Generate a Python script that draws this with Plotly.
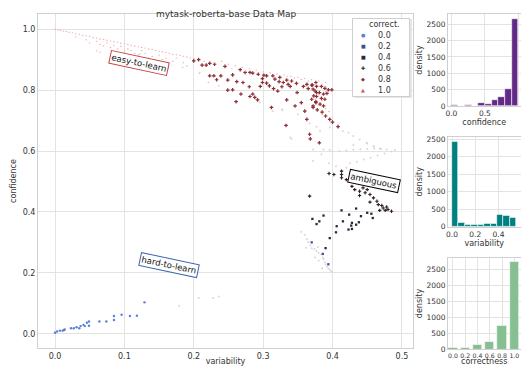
import plotly.graph_objects as go

# ---------------- data ----------------
# correctness 1.0 (easy-to-learn band)
c10_x = [0.000,0.004,0.008,0.012,0.016,0.020,0.025,0.030,0.035,0.040,0.045,0.050,0.055,0.060,0.065,0.070,0.075,0.080,0.085,0.090,
         0.095,0.100,0.105,0.110,0.115,0.120,0.125,0.130,0.135,0.140,0.145,0.150,0.155,0.160,0.165,0.170,0.175,0.180,0.185,0.190,
         0.195,0.200,0.030,0.045,0.050,0.060,0.065,0.070,0.075,0.080,0.085,0.090,0.095,0.100,0.105,0.110,0.115,0.120,0.125,0.130,
         0.135,0.140,0.150,0.155,0.160,0.170,0.175,0.185,0.190,0.060,0.065,0.085,0.110,0.122,0.163,0.184,0.209,0.215,0.230,0.240,
         0.250,0.260,0.270,0.280,0.290,0.300,0.310,0.320,0.330,0.340,0.350,0.360,0.370,0.380,0.390,0.335,0.345,0.355,0.365,0.375,
         0.385,0.390,0.360,0.370,0.380,0.390,0.385,0.375,0.380,0.390,0.385,0.395,0.208,0.221,0.236,0.255,0.275,0.295,0.315,0.325]
c10_y = [1.000,0.998,0.996,0.994,0.992,0.990,0.988,0.985,0.983,0.980,0.978,0.976,0.973,0.971,0.968,0.966,0.964,0.961,0.959,0.957,
         0.954,0.952,0.950,0.947,0.945,0.942,0.940,0.938,0.935,0.933,0.930,0.928,0.926,0.923,0.921,0.918,0.916,0.914,0.911,0.909,
         0.906,0.904,0.975,0.965,0.955,0.960,0.950,0.945,0.955,0.940,0.948,0.935,0.944,0.925,0.935,0.930,0.920,0.915,0.930,0.920,
         0.905,0.910,0.915,0.900,0.905,0.895,0.905,0.890,0.880,0.929,0.925,0.905,0.890,0.918,0.869,0.875,0.859,0.895,0.890,0.895,
         0.885,0.880,0.875,0.870,0.865,0.860,0.857,0.853,0.850,0.845,0.842,0.838,0.834,0.830,0.825,0.845,0.840,0.835,0.830,0.820,
         0.820,0.812,0.815,0.800,0.785,0.795,0.765,0.770,0.750,0.740,0.720,0.730,0.855,0.825,0.814,0.870,0.862,0.850,0.842,0.838]

# correctness 0.8
c08_x = [0.200,0.207,0.212,0.218,0.223,0.230,0.223,0.229,0.233,0.239,0.245,0.249,0.256,0.262,0.267,0.271,0.274,0.280,0.249,0.256,
         0.268,0.261,0.281,0.285,0.288,0.292,0.281,0.285,0.293,0.299,0.301,0.305,0.299,0.296,0.309,0.305,0.314,0.317,0.324,0.323,
         0.329,0.334,0.336,0.315,0.321,0.327,0.339,0.341,0.348,0.349,0.358,0.363,0.365,0.370,0.372,0.376,0.377,0.373,0.370,0.376,
         0.372,0.355,0.360,0.363,0.334,0.312,0.346,0.333,0.367,0.371,0.377,0.384,0.389,0.394,0.399,0.375,0.381,0.387,0.392,0.377,
         0.384,0.389,0.376,0.382,0.387,0.372,0.378,0.385,0.390,0.396,0.400,0.408,0.381,0.368]
c08_y = [0.896,0.900,0.882,0.882,0.888,0.885,0.847,0.847,0.834,0.847,0.878,0.833,0.850,0.828,0.867,0.825,0.858,0.811,0.800,0.801,
         0.787,0.762,0.779,0.787,0.776,0.768,0.858,0.856,0.852,0.838,0.849,0.847,0.825,0.812,0.814,0.823,0.847,0.836,0.842,0.828,
         0.825,0.833,0.819,0.805,0.797,0.811,0.812,0.830,0.822,0.792,0.812,0.819,0.805,0.816,0.803,0.825,0.792,0.781,0.770,0.759,
         0.743,0.759,0.731,0.704,0.768,0.743,0.748,0.684,0.655,0.817,0.812,0.812,0.806,0.801,0.801,0.797,0.792,0.787,0.789,0.779,
         0.773,0.770,0.762,0.754,0.748,0.748,0.735,0.728,0.715,0.704,0.695,0.680,0.627,0.640]

# correctness 0.6
c06_x = [0.395,0.402,0.413,0.413,0.413,0.420,0.428,0.432,0.439,0.444,0.450,0.447,0.439,0.454,0.459,0.454,0.464,0.466,0.471,0.473,
         0.478,0.476,0.480,0.485,0.468,0.367]
c06_y = [0.526,0.523,0.534,0.523,0.512,0.506,0.484,0.473,0.468,0.479,0.473,0.463,0.454,0.457,0.446,0.432,0.435,0.424,0.421,0.413,
         0.416,0.405,0.408,0.402,0.405,0.452]

# correctness 0.4
c04_x = [0.413,0.424,0.434,0.441,0.450,0.458,0.456,0.371,0.381,0.387,0.377,0.415,0.428,0.438,0.434,0.427,0.423,0.428,0.406,0.405,
         0.396,0.390]
c04_y = [0.405,0.391,0.411,0.386,0.397,0.380,0.394,0.377,0.369,0.388,0.360,0.369,0.364,0.366,0.358,0.355,0.342,0.344,0.353,0.333,
         0.314,0.281]

# correctness 0.2
c02_x = [0.386,0.370,0.394]
c02_y = [0.262,0.300,0.228]

# correctness 0.0 (hard-to-learn)
c00_x = [0.000,0.003,0.007,0.011,0.013,0.014,0.023,0.027,0.031,0.035,0.037,0.041,0.043,0.046,0.049,0.049,0.064,0.074,0.085,0.085,
         0.096,0.108,0.118,0.129]
c00_y = [0.003,0.007,0.010,0.010,0.012,0.014,0.018,0.018,0.021,0.018,0.025,0.029,0.025,0.036,0.040,0.026,0.040,0.040,0.058,0.045,
         0.062,0.058,0.059,0.103]

# faint (densely overplotted, washed-out) points
faint_x = [0.408,0.415,0.423,0.430,0.439,0.449,0.459,0.468,0.478,0.490,0.425,0.435,0.445,0.455,0.465,0.475,0.485,0.400,0.410,0.420,
           0.430,0.440,0.450,0.460,0.470,0.430,0.450,0.460,0.327,0.341,0.372,0.372,0.384,0.396,0.295,0.367,0.377,0.382,0.396,0.387,
           0.314,0.328,0.350,0.339,0.355,0.360,0.363,0.365,0.368,0.370,0.374,0.377,0.380,0.384,0.386,0.387,0.389,0.390,0.392,0.394,
           0.396,0.398,0.385,0.380,0.375,0.362,0.379,0.179,0.207,0.228,0.236,0.395,0.405,0.420]
faint_y = [0.680,0.666,0.660,0.649,0.638,0.627,0.616,0.608,0.605,0.603,0.560,0.565,0.572,0.578,0.585,0.592,0.598,0.598,0.600,0.602,
           0.604,0.606,0.607,0.608,0.607,0.620,0.625,0.615,0.737,0.640,0.605,0.567,0.589,0.603,0.759,0.690,0.680,0.666,0.677,0.605,
           0.731,0.734,0.721,0.644,0.335,0.325,0.310,0.300,0.290,0.281,0.278,0.272,0.265,0.260,0.250,0.245,0.235,0.228,0.221,0.215,
           0.210,0.204,0.215,0.240,0.250,0.282,0.285,0.092,0.117,0.117,0.122,0.560,0.550,0.545]

# histograms (counts)
conf_bins = [0.05,0.15,0.25,0.35,0.45,0.55,0.65,0.75,0.85,0.95]
conf_counts = [40,0,45,0,95,60,190,280,510,2660]
var_bins = [0.0277,0.0830,0.1383,0.1936,0.2489,0.3042,0.3595,0.4148,0.4701,0.5254]
var_counts = [2430,125,65,50,60,100,100,335,315,260]
corr_bins = [0.0,0.2,0.4,0.6,0.8,1.0]
corr_counts = [40,60,130,250,740,2720]

classes = ["0.0","0.2","0.4","0.6","0.8","1.0"]

# ---------------- figure ----------------
GRID = "#e3e3e3"
LINE = "#d0d0d0"
TXT = "#333333"
FONT = "DejaVu Sans"

colors = {"0.0":"#5b7fd9","0.2":"#3d5396","0.4":"#262a3c","0.6":"#2e1f22","0.8":"#8c2f35","1.0":"#d1545a"}
symbols = {"0.0":"circle","0.2":"square","0.4":"square","0.6":"cross","0.8":"cross","1.0":"triangle-up"}
glyphs = {"0.0":"\u25CF","0.2":"\u25A0","0.4":"\u25A0","0.6":"\u271A","0.8":"\u25C6","1.0":"\u25B2"}

fig = go.Figure()

fig.add_trace(go.Scatter(x=faint_x, y=faint_y, mode="markers", showlegend=False,
                         marker=dict(size=2.0, color="#dcd5d8"), hoverinfo="skip"))

data = {"0.0":(c00_x,c00_y),"0.2":(c02_x,c02_y),"0.4":(c04_x,c04_y),
        "0.6":(c06_x,c06_y),"0.8":(c08_x,c08_y),"1.0":(c10_x,c10_y)}
plot_style = {"0.0":dict(size=2.4, color="#5b7fd9"),
              "0.2":dict(size=2.3, color="#3d5396"),
              "0.4":dict(size=2.3, color="#262a3c"),
              "0.6":dict(size=2.8, color="#2e1f22"),
              "0.8":dict(size=3.0, color="#8c2f35"),
              "1.0":dict(size=1.8, color="#eca9aa")}
for c in classes:
    xs, ys = data[c]
    st = plot_style[c]
    fig.add_trace(go.Scatter(x=xs, y=ys, mode="markers", showlegend=False, name=c,
                             marker=dict(size=st["size"], color=st["color"], symbol=symbols[c])))

hist_style = dict(marker_line_color="white", marker_line_width=0.6)
fig.add_trace(go.Bar(x=conf_bins, y=conf_counts, width=0.1, marker_color="#622a87",
                     xaxis="x2", yaxis="y2", showlegend=False, **hist_style))
fig.add_trace(go.Bar(x=var_bins, y=var_counts, width=0.0553, marker_color="teal",
                     xaxis="x3", yaxis="y3", showlegend=False, **hist_style))
fig.add_trace(go.Bar(x=corr_bins, y=corr_counts, width=0.15, marker_color="#86bf91",
                     xaxis="x4", yaxis="y4", showlegend=False, **hist_style))

# the page body has an 8px margin on every side; keep the figure fully inside the window
OFF = 8
WIN_W, WIN_H = 529, 374
W, H = WIN_W - 2 * OFF, WIN_H - 2 * OFF
def px(v):
    return (v - OFF) / W
def py(v):
    return (WIN_H - OFF - v) / H

def ax(size=8):
    return dict(showgrid=True, gridcolor=GRID, gridwidth=1, showline=True, linecolor=LINE,
                linewidth=1, mirror=True, zeroline=False, ticks="", automargin=False, tickangle=0,
                tickfont=dict(size=size, color=TXT, family=FONT))

def ttl(t, s):
    return dict(text=t, font=dict(size=8, color=TXT, family=FONT), standoff=s)

HX0, HX1 = 448, 520.5
yt = [0,500,1000,1500,2000,2500]
fig.update_layout(
    width=W, height=H, margin=dict(l=0, r=0, t=0, b=0),
    paper_bgcolor="white", plot_bgcolor="white",
    font=dict(family=FONT, color=TXT, size=8),
    showlegend=False, bargap=0,
    xaxis=dict(domain=[px(38), px(413)], range=[-0.0245, 0.516], tickvals=[0,0.1,0.2,0.3,0.4,0.5],
               ticktext=["0.0","0.1","0.2","0.3","0.4","0.5"], title=ttl("variability", 0), **ax()),
    yaxis=dict(domain=[py(348), py(14)], range=[-0.047, 1.05], tickvals=[0,0.2,0.4,0.6,0.8,1.0],
               ticktext=["0.0","0.2","0.4","0.6","0.8","1.0"], title=ttl("confidence", 4), **ax()),
    xaxis2=dict(domain=[px(HX0), px(HX1)], range=[-0.05, 1.03], anchor="y2",
                tickvals=[0,0.5,1.0], ticktext=["0.0","0.5","1.0"], title=ttl("confidence", 1), **ax(7.5)),
    yaxis2=dict(domain=[py(106), py(14)], range=[0, 2810], anchor="x2",
                tickvals=yt, title=ttl("density", 2), **ax(7.5)),
    xaxis3=dict(domain=[px(HX0), px(HX1)], range=[-0.035, 0.59], anchor="y3",
                tickvals=[0,0.2,0.4], ticktext=["0.0","0.2","0.4"], title=ttl("variability", 1), **ax(7.5)),
    yaxis3=dict(domain=[py(226.7), py(136.7)], range=[0, 2570], anchor="x3",
                tickvals=yt, title=ttl("density", 2), **ax(7.5)),
    xaxis4=dict(domain=[px(HX0), px(HX1)], range=[-0.08, 1.1], anchor="y4",
                tickvals=[0,0.2,0.4,0.6,0.8,1.0], ticktext=["0.0","0.2","0.4","0.6","0.8","1.0"],
                title=ttl("correctness", 0), **ax(6.2)),
    yaxis4=dict(domain=[py(349.3), py(257.7)], range=[0, 2860], anchor="x4",
                tickvals=yt, title=ttl("density", 2), **ax(7.5)),
)

fig.add_annotation(text="mytask-roberta-base Data Map", x=px(225.5), y=py(7), xref="paper", yref="paper",
                   showarrow=False, font=dict(size=9, color=TXT, family=FONT))

ann = [("easy-to-learn", 0.121, 0.889, "#c8403f", 12),
       ("ambiguous", 0.460, 0.501, "#000000", 12),
       ("hard-to-learn", 0.164, 0.225, "#3b62b5", 12)]
for t, x, y, bc, ang in ann:
    fig.add_annotation(text=t, x=x, y=y, xref="x", yref="y", showarrow=False, textangle=ang,
                       font=dict(size=8.5, color="#111111", family=FONT),
                       bgcolor="white", bordercolor=bc, borderwidth=1, borderpad=1)

# legend (drawn with annotations so its compact spacing matches)
LX0, LY0, LX1, LY1 = 352, 18, 410, 97
fig.add_annotation(text="", x=px(LX0 + 1.5), y=py(LY0 + 1.5), xref="paper", yref="paper",
                   xanchor="left", yanchor="top", showarrow=False, width=LX1 - LX0, height=LY1 - LY0,
                   bgcolor="#e6e6e6", borderwidth=0, borderpad=0)
fig.add_annotation(text="", x=px(LX0), y=py(LY0), xref="paper", yref="paper",
                   xanchor="left", yanchor="top", showarrow=False, width=LX1 - LX0 - 2, height=LY1 - LY0 - 2,
                   bgcolor="white", bordercolor="#cfcfcf", borderwidth=1, borderpad=0)
fig.add_annotation(text="correct.", x=px(402), y=py(24.5), xref="paper", yref="paper",
                   xanchor="right", yanchor="middle", showarrow=False,
                   font=dict(size=8, color=TXT, family=FONT))
for i, c in enumerate(classes):
    yy = 35 + i * 11
    fig.add_annotation(text=glyphs[c], x=px(363), y=py(yy), xref="paper", yref="paper",
                       xanchor="center", yanchor="middle", showarrow=False,
                       font=dict(size=5, color=colors[c], family=FONT))
    fig.add_annotation(text=c, x=px(376), y=py(yy), xref="paper", yref="paper",
                       xanchor="left", yanchor="middle", showarrow=False,
                       font=dict(size=8, color=TXT, family=FONT))

fig.write_html("out.html")
